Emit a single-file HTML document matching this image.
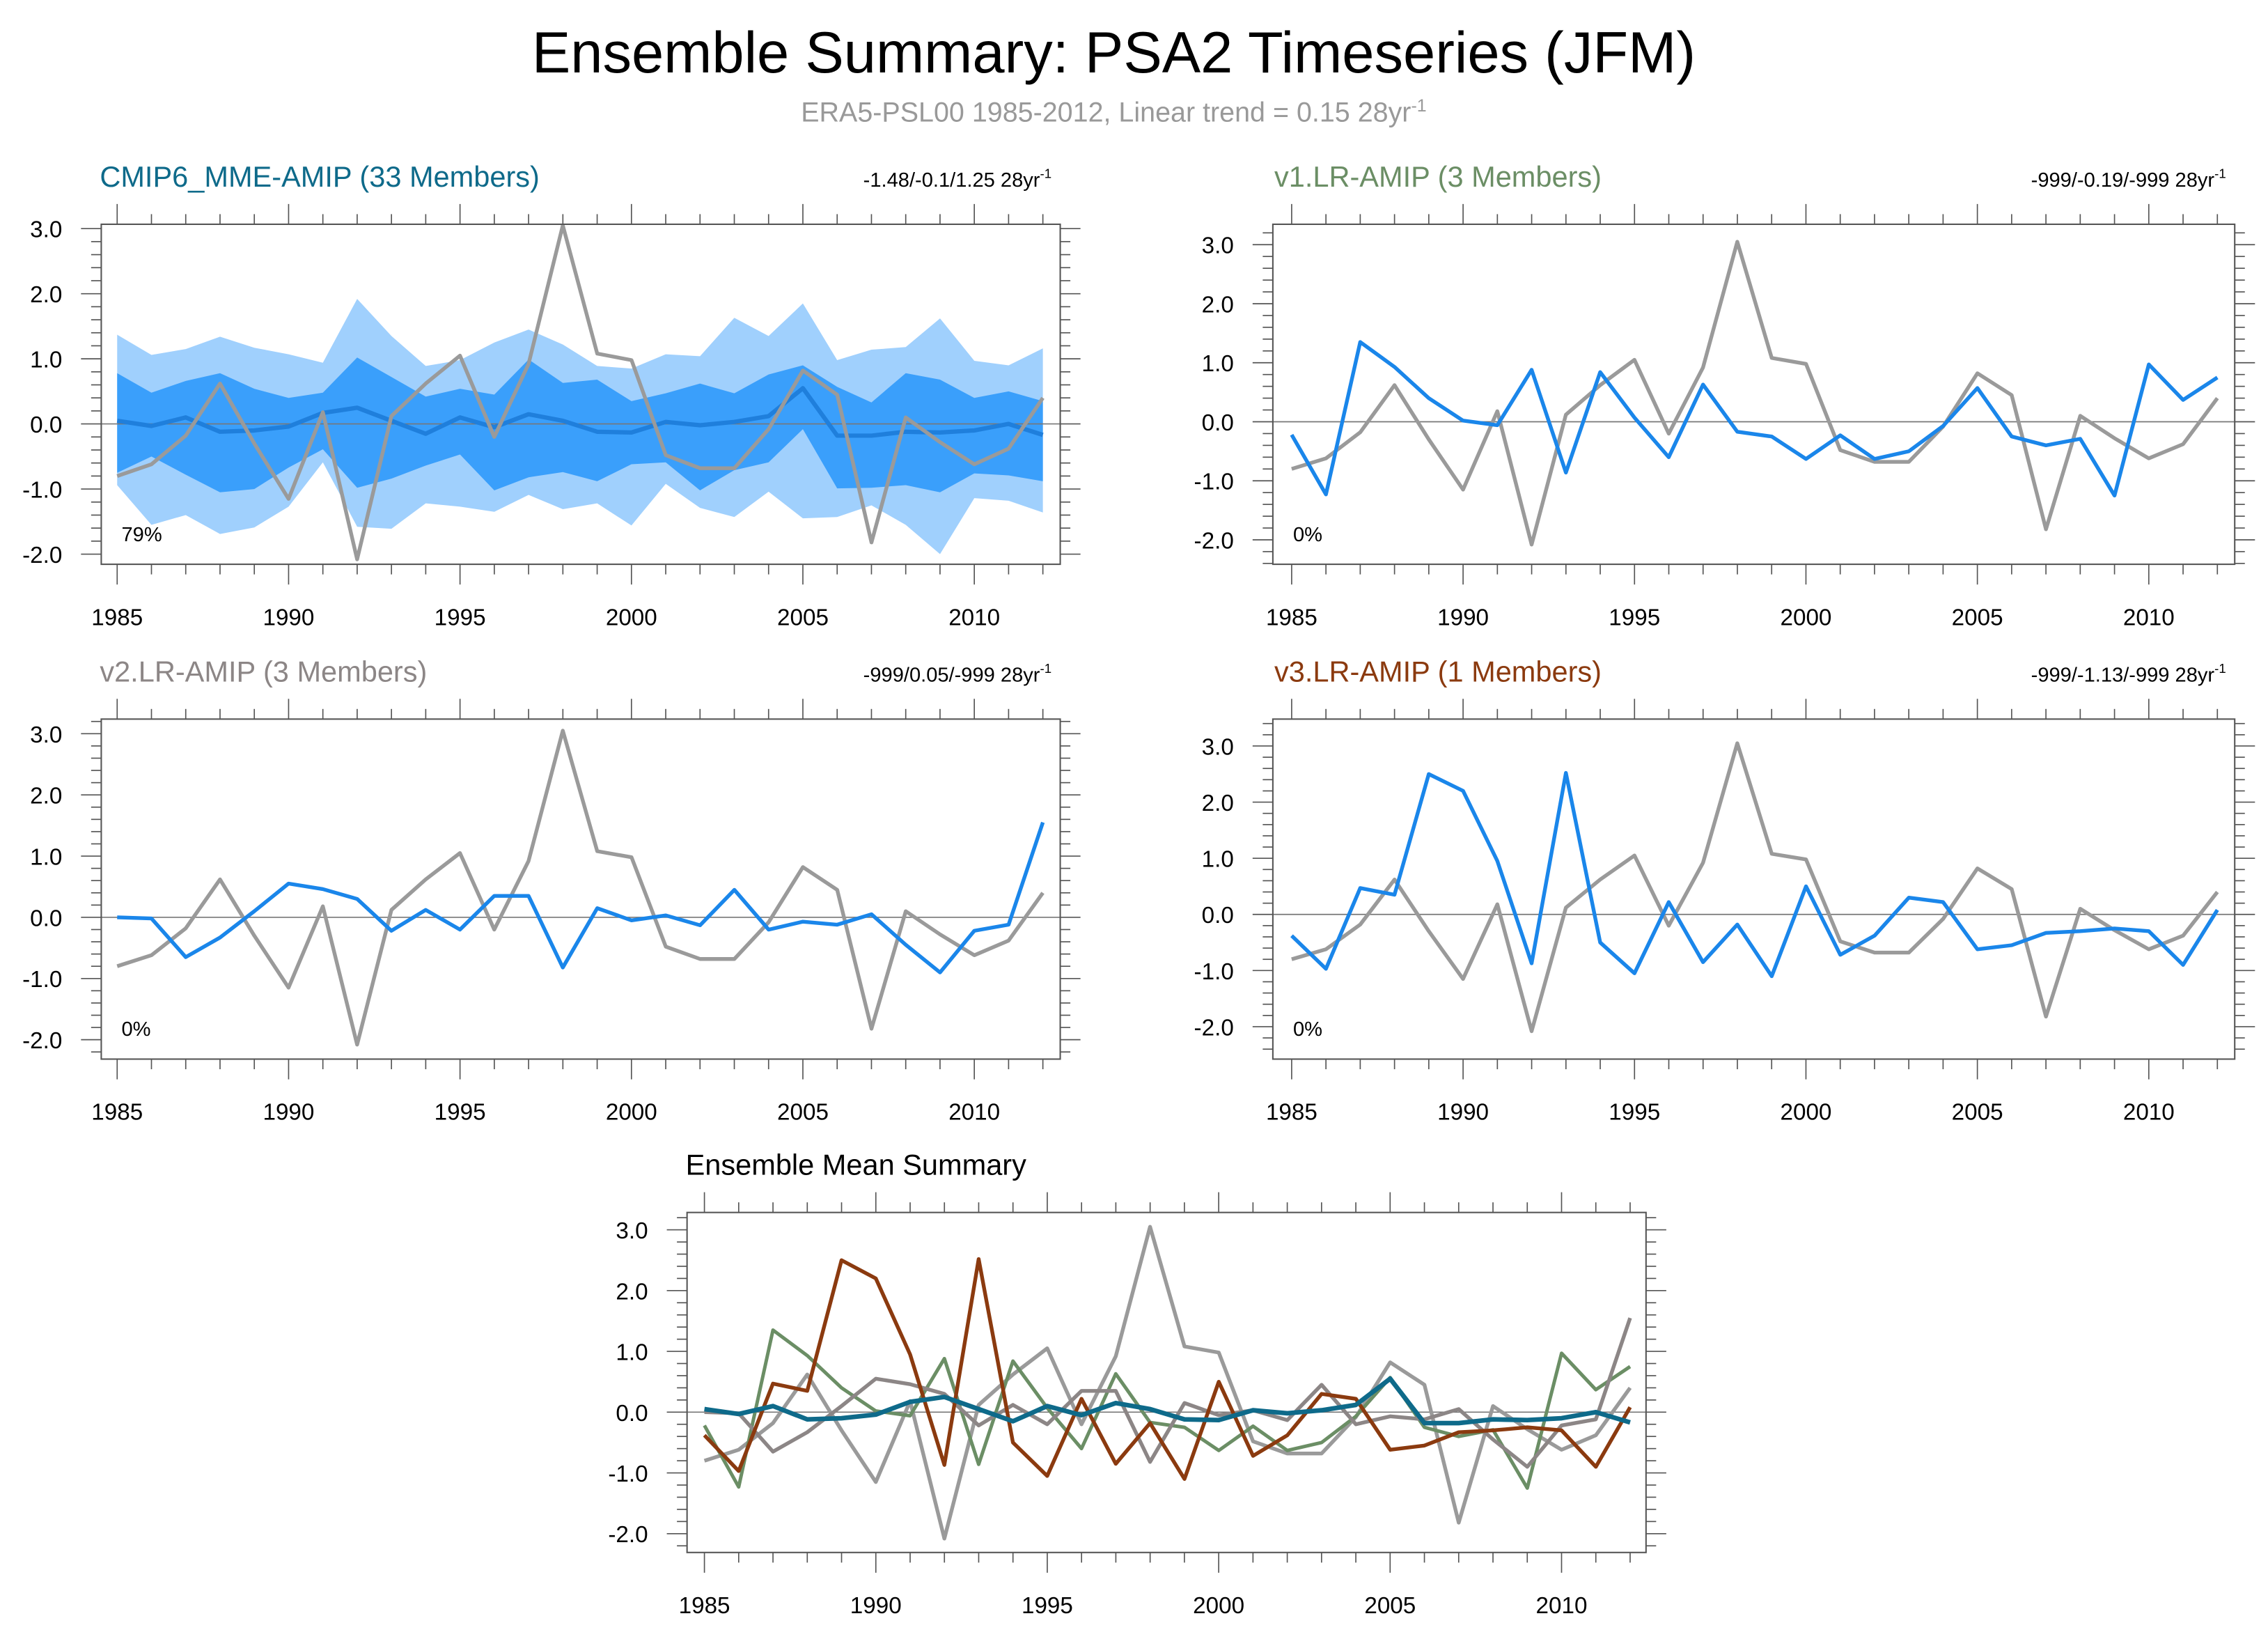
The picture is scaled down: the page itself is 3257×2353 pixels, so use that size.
<!DOCTYPE html>
<html><head><meta charset="utf-8"><style>
html,body{margin:0;padding:0;background:#fff}
svg{display:block;font-family:"Liberation Sans",sans-serif}
</style></head><body>
<svg id="chart" width="3257" height="2353" viewBox="0 0 1568 1132.8" xmlns="http://www.w3.org/2000/svg">
<text x="770" y="50" font-size="40" text-anchor="middle">Ensemble Summary: PSA2 Timeseries (JFM)</text>
<text x="770" y="84" font-size="19" text-anchor="middle" fill="#999">ERA5-PSL00 1985-2012, Linear trend = 0.15 28yr<tspan dy="-7" font-size="12">-1</tspan></text>
</svg>
<script>
const years = [1985,1986,1987,1988,1989,1990,1991,1992,1993,1994,1995,1996,1997,1998,1999,2000,2001,2002,2003,2004,2005,2006,2007,2008,2009,2010,2011,2012];
const obs = [-0.8,-0.62,-0.18,0.62,-0.3,-1.15,0.18,-2.08,0.12,0.62,1.05,-0.2,0.92,3.05,1.08,0.98,-0.48,-0.68,-0.68,-0.08,0.82,0.45,-1.82,0.1,-0.28,-0.62,-0.38,0.4];
const mmeMean = [0.05,-0.03,0.1,-0.12,-0.1,-0.04,0.17,0.25,0.05,-0.15,0.1,-0.05,0.15,0.05,-0.12,-0.13,0.03,-0.02,0.03,0.12,0.55,-0.18,-0.18,-0.12,-0.13,-0.1,0.0,-0.17];
const mmeDarkHi = [0.78,0.48,0.66,0.78,0.54,0.4,0.48,1.02,0.72,0.42,0.54,0.45,0.99,0.63,0.68,0.35,0.47,0.62,0.47,0.76,0.9,0.57,0.33,0.78,0.68,0.4,0.5,0.35];
const mmeDarkLo = [-0.75,-0.5,-0.78,-1.05,-1.0,-0.67,-0.39,-0.98,-0.84,-0.64,-0.47,-1.02,-0.82,-0.74,-0.88,-0.62,-0.59,-1.02,-0.71,-0.59,-0.08,-0.99,-0.98,-0.94,-1.05,-0.76,-0.79,-0.88];
const mmeLightHi = [1.37,1.06,1.15,1.34,1.17,1.07,0.94,1.92,1.35,0.89,0.98,1.25,1.45,1.22,0.89,0.85,1.07,1.04,1.63,1.35,1.85,0.98,1.14,1.18,1.62,0.97,0.9,1.16];
const mmeLightLo = [-0.94,-1.55,-1.4,-1.69,-1.59,-1.27,-0.59,-1.58,-1.61,-1.22,-1.27,-1.35,-1.09,-1.31,-1.22,-1.56,-0.92,-1.29,-1.43,-1.04,-1.45,-1.43,-1.25,-1.55,-2.0,-1.14,-1.18,-1.36];
const v1 = [-0.22,-1.23,1.35,0.93,0.4,0.02,-0.06,0.88,-0.86,0.84,0.07,-0.6,0.63,-0.17,-0.25,-0.63,-0.23,-0.63,-0.5,-0.07,0.57,-0.25,-0.4,-0.29,-1.25,0.97,0.37,0.75];
const v2 = [0.0,-0.02,-0.65,-0.33,0.1,0.55,0.46,0.3,-0.22,0.12,-0.2,0.35,0.35,-0.82,0.15,-0.05,0.03,-0.13,0.45,-0.2,-0.07,-0.12,0.05,-0.45,-0.9,-0.22,-0.12,1.55];
const v3 = [-0.38,-0.97,0.47,0.35,2.5,2.2,0.95,-0.87,2.52,-0.5,-1.05,0.22,-0.85,-0.18,-1.1,0.5,-0.72,-0.38,0.3,0.22,-0.62,-0.55,-0.33,-0.3,-0.25,-0.3,-0.9,0.08];
const yTicks = [-2,-1,0,1,2,3];
const yTickLabels = ["-2.0","-1.0","0.0","1.0","2.0","3.0"];
const xTicks = [1985,1990,1995,2000,2005,2010];

const NS = "http://www.w3.org/2000/svg";
const svg = document.getElementById('chart');
function mk(tag, attrs, parent){const e=document.createElementNS(NS,tag);for(const k in attrs)e.setAttribute(k,attrs[k]);(parent||svg).appendChild(e);return e;}

function panel(cfg){
  const g = mk('g',{});
  
  
  const {x0,x1,y0,y1,zeroY,unit,xa,xb} = cfg;
  const sx = yr => xa + (yr-1985)*(xb-xa)/27;
  const sy = v => zeroY - v*unit;
  const vmin = (zeroY - y1)/unit, vmax = (zeroY - y0)/unit;
  const t = mk('text',{x:cfg.tx,y:y0-26,'font-size':20,fill:cfg.tcolor},g);
  t.textContent = cfg.title;
  
  
  if(cfg.right){
    const r = mk('text',{x:x1-6,y:y0-26,'font-size':14,'text-anchor':'end'},g);
    
    
    r.innerHTML = cfg.right + ' 28yr<tspan dy="-6" font-size="9">-1</tspan>';
  }
  if(cfg.bands){
    const poly=(hi,lo,fill,nm)=>{
      let pts = years.map((y,i)=>sx(y)+','+sy(hi[i]));
      pts = pts.concat(years.map((y,i)=>sx(y)+','+sy(lo[i])).reverse());
      const p = mk('polygon',{points:pts.join(' '),fill:fill},g);
      
      
    };
    poly(mmeLightHi,mmeLightLo,'#a0d0fd','spread-band-outer');
    poly(mmeDarkHi,mmeDarkLo,'#3a9ffb','spread-band-inner');
  }
  const zl = mk('line',{x1:x0,x2:x1,y1:sy(0),y2:sy(0),stroke:'#777','stroke-width':0.8},g);
  
  
  cfg.series.forEach(s=>{
    const d = years.map((y,i)=>(i?'L':'M')+sx(y).toFixed(1)+','+sy(s.data[i]).toFixed(1)).join(' ');
    const p = mk('path',{d:d,fill:'none',stroke:s.color,'stroke-width':s.w,'stroke-linejoin':'round'},g);
    
    
  });
  const fr = mk('rect',{x:x0,y:y0,width:x1-x0,height:y1-y0,fill:'none',stroke:'#555','stroke-width':1},g);
  
  
  years.forEach(y=>{
    const maj = xTicks.includes(y), L = maj?14:7;
    mk('line',{x1:sx(y),x2:sx(y),y1:y0,y2:y0-L,stroke:'#555','stroke-width':0.8},g);
    mk('line',{x1:sx(y),x2:sx(y),y1:y1,y2:y1+L,stroke:'#555','stroke-width':0.8},g);
  });
  xTicks.forEach(y=>{
    const tl = mk('text',{x:sx(y),y:y1+42,'font-size':16,'text-anchor':'middle'},g);
    tl.textContent = y;
    
    
  });
  for(let k=Math.ceil(vmin*5);k<=Math.floor(vmax*5);k++){
    const v=k/5, maj = k%5===0, L = maj?14:7, yy=sy(v);
    mk('line',{x1:x0,x2:x0-L,y1:yy,y2:yy,stroke:'#555','stroke-width':0.8},g);
    mk('line',{x1:x1,x2:x1+L,y1:yy,y2:yy,stroke:'#555','stroke-width':0.8},g);
  }
  yTicks.forEach((v,i)=>{
    if(v<vmin||v>vmax) return;
    const tl = mk('text',{x:x0-27,y:sy(v)+6,'font-size':16,'text-anchor':'end'},g);
    tl.textContent = yTickLabels[i];
    
    
  });
  if(cfg.pct){
    const pt = mk('text',{x:x0+14,y:y1-16,'font-size':14},g);
    pt.textContent = cfg.pct;
    
    
  }
}
const OBS='#9a9a9a', BLUE='#1a86ea';
panel({name:'panel-cmip6-mme',x0:70,x1:733,y0:155,y1:390,zeroY:293,unit:45,xa:81,xb:721,tx:69,title:'CMIP6_MME-AMIP (33 Members)',tcolor:'#0e6a8a',right:'-1.48/-0.1/1.25',bands:true,pct:'79%',
  series:[{name:'mme-mean-line',data:mmeMean,color:'#1f7fdc',w:3},{name:'observed-line',data:obs,color:OBS,w:2.6}]});
panel({name:'panel-v1',x0:880,x1:1545,y0:155,y1:390,zeroY:291.5,unit:40.8,xa:893,xb:1533,tx:881,title:'v1.LR-AMIP (3 Members)',tcolor:'#6b8e65',right:'-999/-0.19/-999',pct:'0%',
  series:[{name:'observed-line',data:obs,color:OBS,w:2.6},{name:'v1-mean-line',data:v1,color:BLUE,w:2.6}]});
panel({name:'panel-v2',x0:70,x1:733,y0:497,y1:732,zeroY:634,unit:42.3,xa:81,xb:721,tx:69,title:'v2.LR-AMIP (3 Members)',tcolor:'#8c8686',right:'-999/0.05/-999',pct:'0%',
  series:[{name:'observed-line',data:obs,color:OBS,w:2.6},{name:'v2-mean-line',data:v2,color:BLUE,w:2.6}]});
panel({name:'panel-v3',x0:880,x1:1545,y0:497,y1:732,zeroY:632,unit:38.8,xa:893,xb:1533,tx:881,title:'v3.LR-AMIP (1 Members)',tcolor:'#8b3a0f',right:'-999/-1.13/-999',pct:'0%',
  series:[{name:'observed-line',data:obs,color:OBS,w:2.6},{name:'v3-mean-line',data:v3,color:BLUE,w:2.6}]});
panel({name:'panel-ensemble-mean-summary',x0:475,x1:1138,y0:838,y1:1073,zeroY:976,unit:42,xa:487,xb:1127,tx:474,title:'Ensemble Mean Summary',tcolor:'#000',
  series:[{name:'observed-line',data:obs,color:OBS,w:2.6},{name:'v1-line',data:v1,color:'#6b8e65',w:2.4},{name:'v2-line',data:v2,color:'#8c8686',w:2.6},{name:'v3-line',data:v3,color:'#8b3a0f',w:2.6},{name:'mme-line',data:mmeMean,color:'#0e6a8a',w:3.2}]});
</script>
</body></html>
